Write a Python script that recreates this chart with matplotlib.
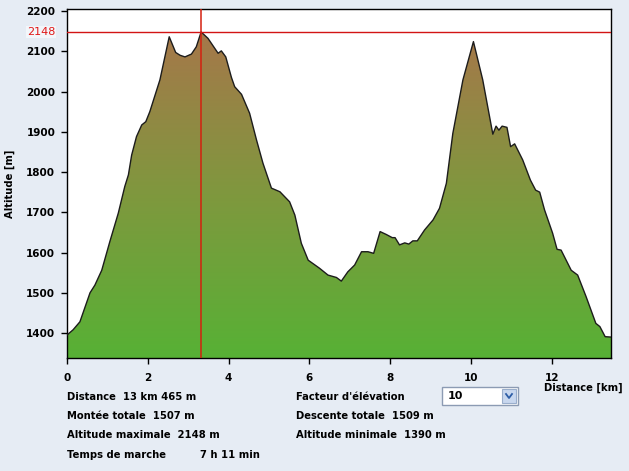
# -*- coding: utf-8 -*-
"""
Profil altimetrique d'une randonnee (distance / altitude)
"""

import numpy as np
import matplotlib
matplotlib.use("Agg")
import matplotlib.pyplot as plt
from matplotlib.colors import LinearSegmentedColormap
from matplotlib.patches import Polygon, Rectangle
from matplotlib.lines import Line2D
import matplotlib.transforms as mtransforms

# --- Donnees du profil ---
distance_km = [0.00, 0.15, 0.32, 0.57, 0.69, 0.86, 1.06, 1.27, 1.43, 1.52, 1.60,
               1.72, 1.85, 1.95, 2.05, 2.30, 2.53, 2.69, 2.80, 2.92, 3.08, 3.20,
               3.32, 3.49, 3.74, 3.82, 3.93, 4.07, 4.15, 4.32, 4.52, 4.69, 4.85,
               5.06, 5.27, 5.51, 5.64, 5.80, 5.97, 6.25, 6.46, 6.67, 6.79, 6.95,
               7.12, 7.29, 7.45, 7.59, 7.75, 7.90, 8.05, 8.12, 8.23, 8.36, 8.46,
               8.56, 8.67, 8.85, 9.06, 9.22, 9.39, 9.55, 9.80, 10.06, 10.29,
               10.54, 10.62, 10.69, 10.77, 10.89, 10.98, 11.08, 11.28, 11.47,
               11.60, 11.70, 11.82, 12.02, 12.13, 12.23, 12.48, 12.64, 12.85,
               13.09, 13.19, 13.32, 13.465]
altitude_m = [1395, 1408, 1428, 1500, 1519, 1556, 1627, 1698, 1764, 1793, 1842,
              1888, 1917, 1925, 1950, 2029, 2136, 2097, 2090, 2086, 2093, 2111,
              2148, 2132, 2095, 2101, 2086, 2035, 2012, 1993, 1946, 1880, 1822,
              1760, 1751, 1726, 1693, 1623, 1581, 1561, 1544, 1538, 1529, 1552,
              1569, 1602, 1602, 1598, 1652, 1645, 1637, 1637, 1619, 1624, 1621,
              1629, 1629, 1656, 1681, 1710, 1772, 1896, 2029, 2124, 2029,
              1894, 1914, 1904, 1914, 1911, 1863, 1870, 1830, 1780,
              1755, 1750, 1706, 1648, 1608, 1606, 1556, 1544, 1490,
              1424, 1416, 1391, 1390]

x_ticks = [0, 2, 4, 6, 8, 10, 12]
y_ticks = [1400, 1500, 1600, 1700, 1800, 1900, 2000, 2100, 2200]

# point marque (altitude max)
marker_km = 3.31
marker_alt = 2148

# textes du resume
stats_left = ["Distance  13 km 465 m", "Montée totale  1507 m",
              "Altitude maximale  2148 m", "Temps de marche"]
stats_right = ["Facteur d'élévation", "Descente totale  1509 m",
               "Altitude minimale  1390 m"]
walk_time = "7 h 11 min"
factor_value = "10"

# --- Mise en page ---
W, H = 629, 471
BG = '#e6ecf4'
Y_MIN, Y_MAX = 1338, 2205
X_MAX = 13.465
FS = 7.2


def fx(px):
    return px / W


def fy(py):
    return 1 - py / H


fig = plt.figure(figsize=(W / 100, H / 100), dpi=100, facecolor=BG)
ax = fig.add_axes([fx(67), fy(358), fx(611) - fx(67), fy(9) - fy(358)])
ax.set_facecolor('white')

# degrade vert -> brun, decoupe par le profil
cmap = LinearSegmentedColormap.from_list(
    'relief', [(0.0, '#57b135'), (0.5, '#7f983e'), (1.0, '#a6774a')])
grad = np.linspace(0, 1, 256).reshape(-1, 1)
im = ax.imshow(grad, extent=[0, X_MAX, Y_MIN, 2150], origin='lower',
               cmap=cmap, aspect='auto', zorder=1)
verts = [(0, Y_MIN)] + list(zip(distance_km, altitude_m)) + [(X_MAX, Y_MIN)]
poly = Polygon(verts, closed=True, facecolor='none', edgecolor='none',
               transform=ax.transData)
ax.add_patch(poly)
im.set_clip_path(poly)
ax.plot(distance_km, altitude_m, color='#1c1c1c', lw=1.0, zorder=3)

# reticule rouge
ax.axvline(marker_km, color='#d4200f', lw=1.1, zorder=4)
ax.axhline(marker_alt, color='#d21414', lw=1.0, zorder=4)
trans = mtransforms.blended_transform_factory(fig.transFigure, ax.transData)
ax.text(fx(55), marker_alt, str(marker_alt), transform=trans, ha='right',
        va='center', color='#e01818', fontsize=8,
        bbox=dict(facecolor='#f3f6fa', edgecolor='none', pad=0.5))

ax.set_xlim(0, X_MAX)
ax.set_ylim(Y_MIN, Y_MAX)
ax.set_xticks(x_ticks)
ax.set_yticks(y_ticks)
ax.tick_params(axis='both', direction='out', length=4.5, width=1,
               labelsize=7.5, color='black')
ax.tick_params(axis='x', pad=6)
ax.tick_params(axis='y', pad=4)
for lab in ax.get_xticklabels() + ax.get_yticklabels():
    lab.set_fontweight('bold')
for sp in ax.spines.values():
    sp.set_linewidth(1.0)
    sp.set_color('black')

ax.set_ylabel("Altitude [m]", fontsize=FS, fontweight='bold', labelpad=8)
fig.text(fx(544), fy(388), "Distance [km]", fontsize=FS, fontweight='bold',
         ha='left', va='center')

# --- Resume sous le graphique ---
rows_y = [397, 416, 435, 455]
for txt, py in zip(stats_left, rows_y):
    fig.text(fx(67), fy(py), txt, fontsize=FS, fontweight='bold',
             ha='left', va='center')
fig.text(fx(200), fy(rows_y[3]), walk_time, fontsize=FS, fontweight='bold',
         ha='left', va='center')
for txt, py in zip(stats_right, rows_y):
    fig.text(fx(296), fy(py), txt, fontsize=FS, fontweight='bold',
             ha='left', va='center')

# liste deroulante "10"
fig.add_artist(Rectangle((fx(442), fy(405)), fx(518) - fx(442), fy(387) - fy(405),
                         transform=fig.transFigure, facecolor='white',
                         edgecolor='#8c9bb3', lw=1))
fig.add_artist(Rectangle((fx(502), fy(403)), fx(516) - fx(502), fy(389) - fy(403),
                         transform=fig.transFigure, facecolor='#c8d7ee',
                         edgecolor='#9aaecb', lw=0.8))
fig.add_artist(Line2D([fx(506), fx(509), fx(512)], [fy(394), fy(398), fy(394)],
                      transform=fig.transFigure, color='#2d5da6', lw=1.3))
fig.text(fx(448), fy(396), factor_value, fontsize=8, fontweight='bold',
         ha='left', va='center')

plt.savefig('out.png', dpi=100, facecolor=BG)
